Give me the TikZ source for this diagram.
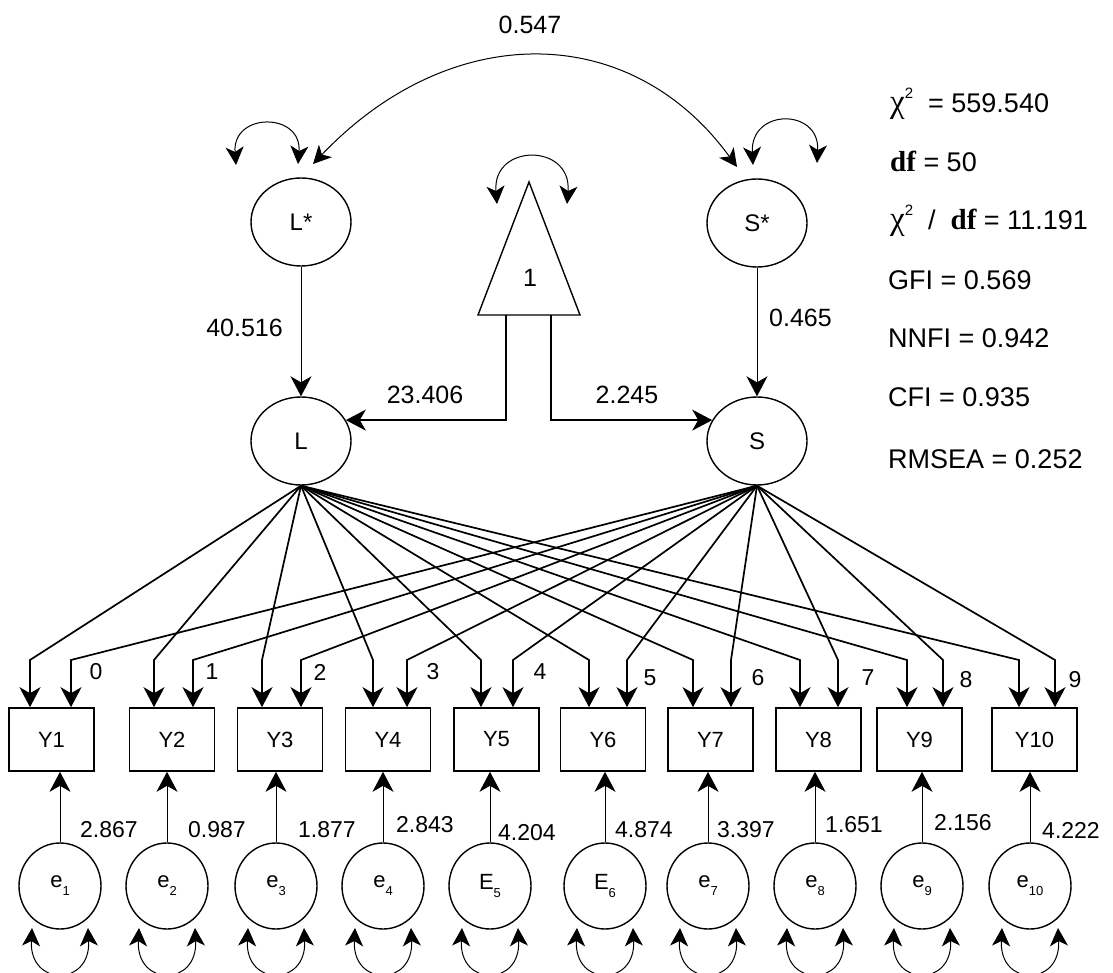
\documentclass[tikz,border=0pt]{standalone}
\usepackage{fontspec}
\setmainfont{Liberation Sans}
\newfontfamily\grkfont{Liberation Serif}
\usetikzlibrary{arrows.meta,shapes.geometric}
% small raised / lowered digits for exponents and indices
\newcommand\supnum[1]{\raisebox{14pt}{\fontsize{15}{15}\selectfont #1}}
\newcommand\subnum[1]{\raisebox{-8pt}{\fontsize{13}{13}\selectfont #1}}
\newcommand\chisym{{\grkfont\fontsize{33}{34}\selectfont χ}}
\newcommand\dfsym{{\grkfont\bfseries\fontsize{29}{30}\selectfont df}}

\begin{document}
\begin{tikzpicture}[x=1pt,y=-1pt,
  font={\fontsize{25}{30}\selectfont},
  >={Stealth[length=20pt,width=21pt,inset=6pt]},
  latent/.style={draw,ellipse,line width=1.4pt,minimum width=100pt,minimum height=88pt,inner sep=0pt,font={\fontsize{24}{28}\selectfont}},
  ind/.style={draw,rectangle,line width=1.6pt,minimum width=85pt,minimum height=63pt,inner sep=0pt,font={\fontsize{22}{26}\selectfont}},
  resid/.style={draw,ellipse,line width=1.4pt,minimum width=82pt,minimum height=86pt,inner sep=0pt,font={\fontsize{22}{26}\selectfont}},
  load/.style={line width=1.7pt,->},
  path1/.style={line width=1pt,->},
  twoway/.style={line width=1pt,<->,>={Stealth[length=18pt,width=18pt,inset=5pt]}},
  lab/.style={inner sep=0pt,font={\fontsize{25}{30}\selectfont}},
  blab/.style={inner sep=0pt,anchor=west,font={\fontsize{23}{28}\selectfont}},
  nlab/.style={inner sep=0pt,font={\fontsize{23}{28}\selectfont}},
  stat/.style={inner sep=0pt,anchor=base west,font={\fontsize{27}{32}\selectfont}}
]
\fill[white] (0,0) rectangle (1113,973);
\useasboundingbox (0,0) rectangle (1113,973);

% latent factors
\node[latent] (Ls) at (301,222) {L*};
\node[latent] (Ss) at (757,223) {S*};
\node[latent] (L)  at (301,441) {L};
\node[latent] (S)  at (757,441) {S};

% observed indicators
\foreach \i/\x in {1/51.5,2/172,3/280,4/388,5/496.5,6/603,7/710.5,8/818.5,9/919.5,10/1034.5}
  \node[ind] (Y\i) at (\x,739.5) {Y\i};

% residuals
\foreach \i/\x/\t in {1/60/e,2/167/e,3/276/e,4/383/e,5/490/E,6/605/E,7/708/e,8/815/e,9/922/e,10/1030/e}
  \node[resid] (e\i) at (\x,886) {\t\subnum{\i}};

% loadings of L and S on the indicators
\foreach \i/\xl/\xs in {1/30/71,2/154/193,3/262/301,4/373/407,5/481/513,6/589/627,7/693/731,8/800/838,9/907/943,10/1019/1055} {
  \coordinate (lb\i) at (\xl,660);
  \coordinate (sb\i) at (\xs,660);
  \draw[load] (L.south) -- (lb\i) -- (lb\i |- Y\i.north);
  \draw[load] (S.south) -- (sb\i) -- (sb\i |- Y\i.north);
}

% loading labels
\foreach \i/\x/\y in {0/96/672,1/212/672,2/320/672,3/433/672,4/540/672,5/650/678,6/758/678,7/868/678,8/966/680,9/1075/680}
  \node[nlab] (n\i) at (\x,\y) {\i};

% residual paths
\foreach \i in {1,...,10}
  \draw[path1] (e\i) -- (e\i |- Y\i.south);
\foreach \x/\y/\v [count=\k] in {80/830/2.867,188/830/0.987,298/830/1.877,396/825/2.843,498/833/4.204,615/830/4.874,717/830/3.397,825/825/1.651,934/823/2.156,1042/830/4.222}
  \node[blab] (v\k) at (\x,\y) {\v};

% residual variances
\foreach \i in {1,...,10}
  \draw[twoway] ([shift={(-28pt,-42pt)}]e\i.center) .. controls ([shift={(-31pt,-101pt)}]e\i.center) and ([shift={(31pt,-101pt)}]e\i.center) .. ([shift={(28pt,-42pt)}]e\i.center);

% second-order paths
\draw[path1] (Ls) -- (L);
\draw[path1] (Ss) -- (S);
\node[lab,anchor=east] (p1) at (283,328) {40.516};
\node[lab,anchor=west] (p2) at (769,318) {0.465};

% constant (mean structure)
\coordinate (apex) at (529,182);
\coordinate (tbl) at (478,315);
\coordinate (tbr) at (580,315);
\draw[line width=1.4pt] (apex) -- (tbr) -- (tbl) -- cycle;
\node[lab] (one) at (530,278) {1};
\coordinate (legL) at (506,315);
\coordinate (legR) at (551,315);
\draw[line width=1.4pt,->] (legL) |- (L.25);
\draw[line width=1.4pt,->] (legR) |- (S.155);
\node[lab] (m1) at (425,395) {23.406};
\node[lab] (m2) at (627,395) {2.245};

% variances and covariance of the upper factors
\coordinate (lsa) at (236,165);
\coordinate (lsb) at (298,164);
\draw[twoway] (lsa) .. controls (232,112) and (302,112) .. (lsb);
\coordinate (ta) at (497,204);
\coordinate (tb) at (567,204);
\draw[twoway] (ta) .. controls (492,143) and (572,143) .. (tb);
\coordinate (ssa) at (753,165);
\coordinate (ssb) at (817,163);
\draw[twoway] (ssa) .. controls (750,108) and (820,108) .. (ssb);
\coordinate (arcA) at (313,164);
\coordinate (arcB) at (737,167);
\draw[twoway] (arcA) .. controls (450,20) and (630,20) .. (arcB);
\node[lab] (cov) at (530,25) {0.547};

% fit statistics
\node[stat] (fit1) at (890,113) {\chisym\supnum{2}\ \ = 559.540};
\node[stat] (fit2) at (890,172) {\dfsym\ = 50};
\node[stat] (fit3) at (890,230) {\chisym\supnum{2}\ \ /\ \ \dfsym\ = 11.191};
\node[stat] (fit4) at (888,290) {GFI = 0.569};
\node[stat] (fit5) at (888,348) {NNFI = 0.942};
\node[stat] (fit6) at (888,406) {CFI = 0.935};
\node[stat] (fit7) at (888,468) {RMSEA = 0.252};
\end{tikzpicture}
\end{document}
